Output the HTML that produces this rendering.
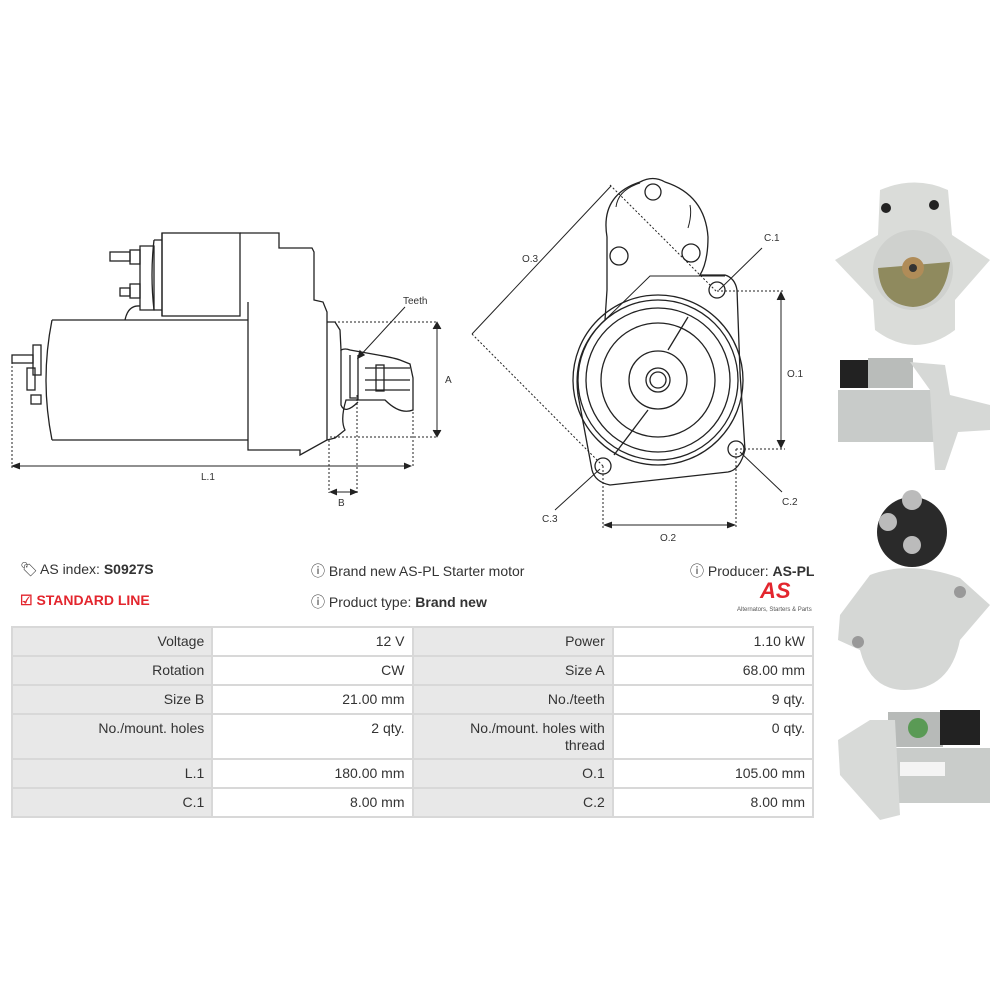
<!DOCTYPE html>
<html><head><meta charset="utf-8"><style>
body{margin:0;background:#fff;width:1000px;height:1000px;position:relative;overflow:hidden;font-family:"Liberation Sans",sans-serif;}
svg{position:absolute;left:0;top:0}
.t{position:absolute;font-size:14px;color:#333;white-space:nowrap}
table{position:absolute;left:11px;top:626px;border-collapse:collapse;width:803px;font-size:14px;color:#333;table-layout:fixed}
td{border:2px solid #d8d8d8;text-align:right;padding:5px 7px 0 7px;vertical-align:top;height:22px;line-height:17px}
td.l{background:#e8e8e8}
</style></head><body>
<svg width="1000" height="1000" viewBox="0 0 1000 1000" fill="none" stroke="#222" stroke-width="1.3">
<!-- side view -->
<rect x="162" y="233" width="78" height="83" />
<path d="M162 233 L162 316 M240 233 L279 233 L279 248 L312 248 L314 252 L314 300 L323 302 L327 312 L327 440 L300 455 L300 450 L248 450 L248 302"/>
<path d="M154 240 Q150 275 154 310 L162 310 M154 240 L162 240"/>
<path d="M140 246 L154 246 L154 310 L140 310 Z"/>
<rect x="130" y="250" width="10" height="14"/><rect x="110" y="252" width="20" height="9"/>
<rect x="130" y="284" width="10" height="14"/><rect x="120" y="288" width="10" height="8"/>
<path d="M125 320 Q128 305 140 306"/>
<path d="M52 320 L248 320 M52 440 L248 440 M52 320 Q40 380 52 440"/>
<rect x="33" y="345" width="8" height="30"/><rect x="27" y="368" width="8" height="22"/>
<rect x="12" y="355" width="21" height="8"/><rect x="31" y="395" width="10" height="9"/>
<path d="M327 322 L335 322 L340 330 L341 350 Q345 348 350 350 L378 355 Q395 358 400 360 L410 364 L413 378 L413 410 Q400 415 385 400 L360 400 L346 400 Q340 420 345 430 L335 438 L327 440"/>
<path d="M341 350 L341 405 Q345 415 358 402 M350 355 L350 398 L358 398 M358 355 L358 400 M365 368 L410 368 M365 380 L410 380 M365 390 L410 390"/>
<rect x="376" y="365" width="8" height="26"/>
<g stroke-dasharray="2 2" stroke-width="1">
<path d="M330 322 L437 322 M330 437 L437 437 M12 362 L12 468 M413 380 L413 468 M329 440 L329 493 M357 395 L357 493"/>
</g>
<path d="M437 325 L437 434 M14 466 L410 466 M330 492 L356 492" stroke-width="1"/>
<path d="M433 329 L437 322 L441 329 M433 430 L437 437 L441 430 M20 463 L12 466 L20 469 M404 463 L411 466 L404 469 M337 489 L330 492 L337 495 M350 489 L357 492 L350 495" fill="#222" stroke-width="0.8"/>
<path d="M405 307 L358 358" stroke-width="1"/><path d="M358 358 L360 351 L364 355 Z" fill="#222"/>
<!-- front view -->
<path d="M607 237 Q600 195 640 182 Q653 175 665 182 Q705 195 708 237 Q708 262 700 275 L725 275 Q735 278 737 290 L740 372 L745 450 Q740 470 728 472 L610 485 Q595 482 592 470 L578 395 Q572 350 605 320 L607 290 Z" fill="#fff"/>
<path d="M616 207 Q618 190 640 183 M690 205 Q692 215 688 228" stroke-width="1"/>
<path d="M605 320 L650 276 L725 276" stroke-width="1"/>
<circle cx="658" cy="380" r="85"/><circle cx="658" cy="380" r="80"/>
<circle cx="658" cy="380" r="72"/><circle cx="658" cy="380" r="57"/>
<path d="M688 317 L668 350 M648 410 L614 455" />
<circle cx="658" cy="380" r="29"/><circle cx="658" cy="380" r="12"/><circle cx="658" cy="380" r="8"/>
<circle cx="653" cy="192" r="8"/><circle cx="619" cy="256" r="9"/><circle cx="691" cy="253" r="9"/>
<circle cx="717" cy="290" r="8"/><circle cx="736" cy="449" r="8"/><circle cx="603" cy="466" r="8"/>
<g stroke-dasharray="2 2" stroke-width="1">
<path d="M610 185 L717 292 M472 334 L603 466 M717 291 L785 291 M736 449 L785 449 M603 466 L603 528 M736 449 L736 528"/>
</g>
<path d="M472 334 L611 186 M781 294 L781 446 M605 525 L734 525 M762 248 L719 290 M782 492 L740 452 M555 510 L600 469" stroke-width="1"/>
<path d="M777 300 L781 292 L785 300 M777 440 L781 448 L785 440 M612 522 L604 525 L612 528 M727 522 L735 525 L727 528" fill="#222" stroke-width="0.8"/>
<g fill="#333" stroke="none" font-size="10" font-family="Liberation Sans, sans-serif">
<text x="403" y="304">Teeth</text><text x="445" y="383">A</text><text x="201" y="480">L.1</text><text x="338" y="506">B</text>
<text x="522" y="262">O.3</text><text x="764" y="241">C.1</text><text x="787" y="377">O.1</text><text x="782" y="505">C.2</text>
<text x="542" y="522">C.3</text><text x="660" y="541">O.2</text>
</g>
<!-- photos -->
<g stroke="none">
<path d="M880 190 Q915 175 948 190 L952 235 L990 260 L955 300 L955 330 Q915 360 875 330 L873 300 L835 260 L878 235 Z" fill="#dadcd9"/>
<circle cx="913" cy="270" r="40" fill="#cfd1ce"/>
<path d="M878 268 L950 262 Q945 305 913 307 Q880 305 878 268Z" fill="#8f8a5e"/>
<circle cx="913" cy="268" r="11" fill="#b08c58"/><circle cx="913" cy="268" r="4" fill="#333"/>
<circle cx="886" cy="208" r="5" fill="#222"/><circle cx="934" cy="205" r="5" fill="#222"/>
<rect x="840" y="360" width="30" height="28" fill="#222"/><rect x="868" y="358" width="45" height="30" fill="#b9bcba"/>
<rect x="838" y="390" width="100" height="52" fill="#c8cbc9"/><path d="M910 362 L945 365 L950 395 L990 405 L990 430 L958 432 L945 470 L935 470 L930 390 Z" fill="#d6d8d6"/>
<circle cx="912" cy="532" r="35" fill="#2a2a2a"/><circle cx="912" cy="500" r="10" fill="#bbb"/><circle cx="888" cy="522" r="9" fill="#bbb"/><circle cx="912" cy="545" r="9" fill="#bbb"/>
<path d="M870 575 Q910 560 960 578 L990 605 L960 640 Q950 690 905 690 Q870 690 860 650 L838 640 L840 615 Z" fill="#d5d7d5"/>
<circle cx="960" cy="592" r="6" fill="#999"/><circle cx="858" cy="642" r="6" fill="#999"/>
<rect x="888" y="712" width="55" height="35" fill="#b7bab8"/><rect x="940" y="710" width="40" height="35" fill="#222"/>
<rect x="895" y="748" width="95" height="55" fill="#c9ccca"/><path d="M838 740 L870 720 L895 720 L900 815 L880 820 L840 775 Z" fill="#d8dad8"/>
<circle cx="918" cy="728" r="10" fill="#5a9a55"/><rect x="900" y="762" width="45" height="14" fill="#f4f4f4"/>
</g>
</svg>
<div class="t" style="left:20px;top:561px">&#x1F3F7;&#xFE0E;</div>
<div class="t" style="left:40px;top:561px">AS index: <b>S0927S</b></div>
<div class="t" style="left:20px;top:592px;color:#e3262e;font-weight:bold">&#x2611; STANDARD LINE</div>
<div class="t" style="left:311px;top:561px">&#x24D8; Brand new AS-PL Starter motor</div>
<div class="t" style="left:311px;top:592px">&#x24D8; Product type: <b>Brand new</b></div>
<div class="t" style="left:690px;top:561px">&#x24D8; Producer: <b>AS-PL</b></div>
<div class="t" style="left:760px;top:578px;color:#e3262e;font-weight:bold;font-style:italic;font-size:22px">AS</div>
<div class="t" style="left:737px;top:607px;font-size:6px;color:#555">Alternators, Starters &amp; Parts</div>
<table>
<colgroup><col style="width:200px"><col style="width:200px"><col style="width:200px"><col style="width:200px"></colgroup>
<tr><td class="l">Voltage</td><td>12 V</td><td class="l">Power</td><td>1.10 kW</td></tr>
<tr><td class="l">Rotation</td><td>CW</td><td class="l">Size A</td><td>68.00 mm</td></tr>
<tr><td class="l">Size B</td><td>21.00 mm</td><td class="l">No./teeth</td><td>9 qty.</td></tr>
<tr><td class="l" style="height:38px">No./mount. holes</td><td>2 qty.</td><td class="l">No./mount. holes with<br>thread</td><td>0 qty.</td></tr>
<tr><td class="l">L.1</td><td>180.00 mm</td><td class="l">O.1</td><td>105.00 mm</td></tr>
<tr><td class="l">C.1</td><td>8.00 mm</td><td class="l">C.2</td><td>8.00 mm</td></tr>
</table>
</body></html>
